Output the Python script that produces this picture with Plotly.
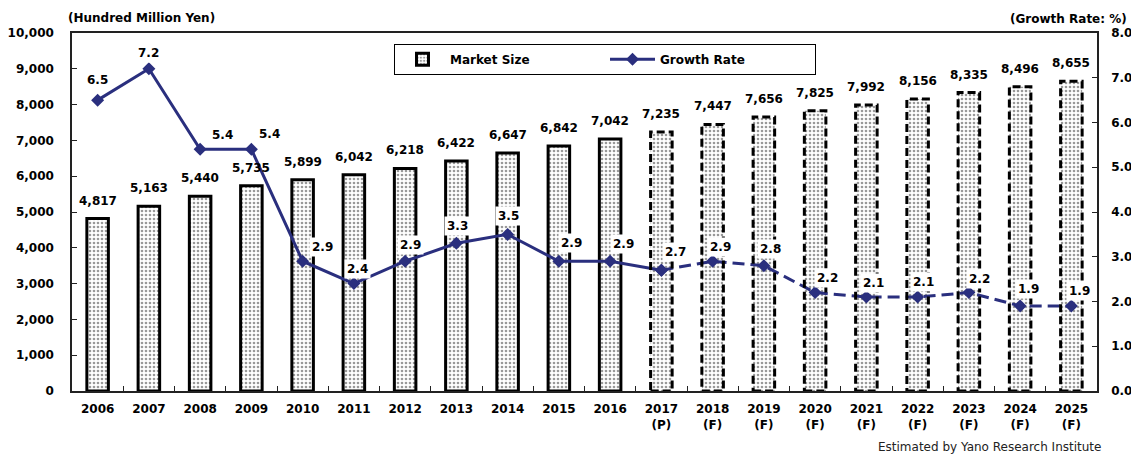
import plotly.graph_objects as go

years = ["2006", "2007", "2008", "2009", "2010", "2011", "2012", "2013", "2014", "2015",
         "2016", "2017", "2018", "2019", "2020", "2021", "2022", "2023", "2024", "2025"]
suffix = [""] * 11 + ["(P)"] + ["(F)"] * 8
market_size = [4817, 5163, 5440, 5735, 5899, 6042, 6218, 6422, 6647, 6842,
               7042, 7235, 7447, 7656, 7825, 7992, 8156, 8335, 8496, 8655]
growth_rate = [6.5, 7.2, 5.4, 5.4, 2.9, 2.4, 2.9, 3.3, 3.5, 2.9,
               2.9, 2.7, 2.9, 2.8, 2.2, 2.1, 2.1, 2.2, 1.9, 1.9]
n_actual = 11  # 2006-2016 actual, 2017 onward projected/forecast

tick_text = [y if s == "" else f"{y}<br>{s}" for y, s in zip(years, suffix)]
xs = list(range(len(years)))

FONT = "DejaVu Sans"
NAVY = "#2a2f7e"
BAR_W = 0.42

# label offsets (pixels) for growth rate labels
gr_dx = [0, 0, 22, 18, 20, 4, 5, 1, 1, 13, 13, 14, 8, 7, 12, 7, 6, 11, 8, 8]
gr_dy = [20, 16, 14, 15, 14, 15, 16, 17, 18, 18, 17, 18, 14, 17, 15, 14, 15, 14, 17, 15]

fig = go.Figure()

fig.add_trace(go.Bar(
    x=xs, y=market_size, width=BAR_W, name="Market Size",
    marker=dict(
        color="white",
        pattern=dict(shape=".", size=4, solidity=0.35, fgcolor="#333333", bgcolor="white"),
        line=dict(color="black", width=[3] * n_actual + [0] * (len(xs) - n_actual)),
    ),
    yaxis="y",
))

# dashed outlines for the forecast bars
for i in range(n_actual, len(xs)):
    fig.add_shape(type="rect", xref="x", yref="y",
                  x0=xs[i] - BAR_W / 2, x1=xs[i] + BAR_W / 2, y0=0, y1=market_size[i],
                  line=dict(color="black", width=3, dash="8px,4px"), fillcolor="rgba(0,0,0,0)",
                  layer="above")

fig.add_trace(go.Scatter(
    x=xs[:n_actual + 1], y=growth_rate[:n_actual + 1], name="Growth Rate",
    mode="lines+markers", line=dict(color=NAVY, width=3),
    marker=dict(symbol="diamond", size=10, color=NAVY), yaxis="y2",
))
fig.add_trace(go.Scatter(
    x=xs[n_actual:], y=growth_rate[n_actual:], name="Growth Rate", showlegend=False,
    mode="lines+markers", line=dict(color=NAVY, width=3, dash="12px,6px"),
    marker=dict(symbol="diamond", size=10, color=NAVY), yaxis="y2",
))

# market size labels
for x, v in zip(xs, market_size):
    fig.add_annotation(x=x, y=v, xref="x", yref="y", text=f"{v:,}", showarrow=False,
                       yanchor="bottom", yshift=9,
                       font=dict(family=FONT, size=12, color="black", weight="bold"))

# growth rate labels
for x, v, dx, dy in zip(xs, growth_rate, gr_dx, gr_dy):
    fig.add_annotation(x=x, y=v, xref="x", yref="y2", text=f"{v:.1f}", showarrow=False,
                       xshift=dx, yshift=dy, bgcolor="white", borderpad=2,
                       font=dict(family=FONT, size=12, color="black", weight="bold"))

fig.add_annotation(x=0, y=1, xref="paper", yref="paper", xanchor="left", yanchor="bottom",
                   xshift=-6, yshift=6, text="(Hundred Million Yen)", showarrow=False,
                   font=dict(family=FONT, size=12, color="black", weight="bold"))
fig.add_annotation(x=1, y=1, xref="paper", yref="paper", xanchor="right", yanchor="bottom",
                   xshift=32, yshift=5, text="(Growth Rate: %)", showarrow=False,
                   font=dict(family=FONT, size=12, color="black", weight="bold"))
fig.add_annotation(x=1, y=0, xref="paper", yref="paper", xanchor="right", yanchor="top",
                   xshift=6, yshift=-47, text="Estimated by Yano Research Institute", showarrow=False,
                   font=dict(family=FONT, size=12, color="#222222"))

tickfont = dict(family=FONT, size=12, color="black", weight="bold")

fig.update_layout(
    width=1131, height=455,
    margin=dict(l=72, r=34, t=33, b=64, autoexpand=False),
    paper_bgcolor="white", plot_bgcolor="white",
    bargap=0.5,
    showlegend=True,
    legend=dict(orientation="h", x=0.52, xanchor="center", y=0.97, yanchor="top",
                bordercolor="black", borderwidth=1, bgcolor="white",
                font=dict(family=FONT, size=12, color="black", weight="bold"),
                entrywidth=150, itemwidth=45),
    xaxis=dict(range=[-0.5, len(xs) - 0.5], tickmode="array", tickvals=xs, ticktext=tick_text,
               ticks="", showline=True, linecolor="#222222", linewidth=1.5, mirror=True,
               showgrid=False, zeroline=False, tickfont=tickfont, ticklabelstandoff=6,
               minor=dict(tickmode="array", tickvals=[x + 0.5 for x in xs[:-1]],
                          ticks="inside", ticklen=5, tickcolor="#222222", tickwidth=1)),
    yaxis=dict(range=[0, 10000], dtick=1000, tickformat=",", ticks="inside", ticklen=5,
               tickcolor="#222222", showline=True, linecolor="#222222", linewidth=1.5,
               showgrid=False, zeroline=False, tickfont=tickfont, ticklabelstandoff=14),
    yaxis2=dict(range=[0, 8], dtick=1, tickformat=".1f", ticks="inside", ticklen=5,
                tickcolor="#222222", overlaying="y", side="right", showline=True,
                linecolor="#222222", linewidth=1.5, showgrid=False, zeroline=False,
                tickfont=tickfont, ticklabelstandoff=10),
)

fig.write_html("out.html")
